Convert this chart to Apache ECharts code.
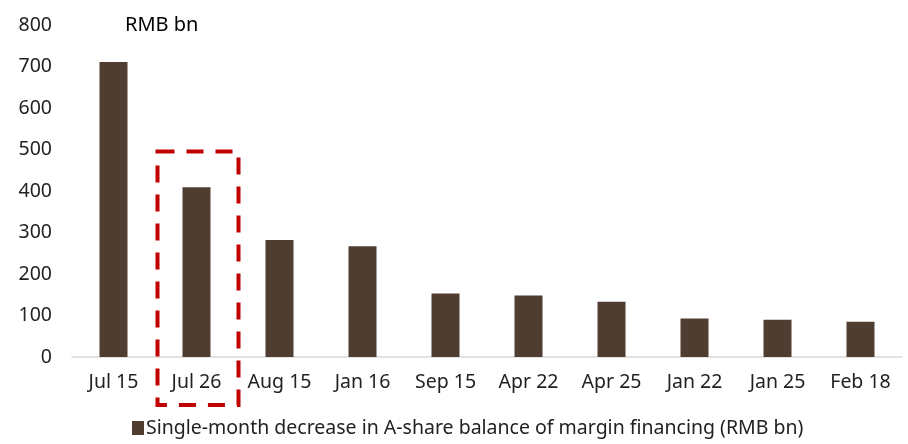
<!DOCTYPE html>
<html>
<head>
<meta charset="utf-8">
<script src="https://cdn.jsdelivr.net/npm/echarts@6/dist/echarts.min.js"></script>
<style>
  html, body { margin: 0; padding: 0; background: #fff; }
  #chart-container { width: 908px; height: 444px; }
</style>
</head>
<body>
<div id="chart-container"></div>
<script>
var categories = ['Jul 15', 'Jul 26', 'Aug 15', 'Jan 16', 'Sep 15', 'Apr 22', 'Apr 25', 'Jan 22', 'Jan 25', 'Feb 18'];
var decreaseValues = [711, 409, 282, 267, 153, 148, 133, 93, 90, 85];
var seriesName = 'Single-month decrease in A-share balance of margin financing (RMB bn)';
var highlightIndex = 1;
var highlightTop = 495;

var dom = document.getElementById('chart-container');
var myChart = echarts.init(dom, null, { renderer: 'canvas' });
var fontFamily = '"Noto Sans", "Open Sans", sans-serif';

var option = {
  backgroundColor: '#fff',
  animation: false,
  textStyle: { fontFamily: fontFamily },
  title: {
    text: 'RMB bn',
    left: 120,
    top: 10,
    textStyle: { fontSize: 20, fontWeight: 'normal', color: '#000', fontFamily: fontFamily }
  },
  grid: { left: 72, right: 6, top: 25, bottom: 87, containLabel: false },
  legend: {
    left: 127,
    top: 413,
    icon: 'rect',
    itemWidth: 12,
    itemHeight: 14,
    itemGap: 4,
    textStyle: { fontSize: 19.5, color: '#222', fontFamily: fontFamily, padding: [0, 0, 0, -3] },
    data: [seriesName]
  },
  xAxis: {
    type: 'category',
    data: categories,
    axisLine: { lineStyle: { color: '#d9d9d9', width: 1.5 } },
    axisTick: { show: false },
    axisLabel: { color: '#222', fontSize: 19.5, margin: 15, interval: 0, hideOverlap: false }
  },
  yAxis: {
    type: 'value',
    min: 0,
    max: 800,
    interval: 100,
    splitLine: { show: false },
    axisLine: { show: false },
    axisTick: { show: false },
    axisLabel: { color: '#222', fontSize: 19.5, margin: 20 }
  },
  series: [
    {
      name: seriesName,
      type: 'bar',
      data: decreaseValues,
      barWidth: 28,
      itemStyle: { color: '#4f3d32' }
    }
  ]
};

myChart.setOption(option);

// dashed highlight box around the Jul 26 bar
var center = myChart.convertToPixel({ xAxisIndex: 0 }, categories[highlightIndex]);
var topY = myChart.convertToPixel({ yAxisIndex: 0 }, highlightTop);
var baseY = myChart.convertToPixel({ yAxisIndex: 0 }, 0);
myChart.setOption({
  graphic: [
    {
      type: 'rect',
      shape: { x: center - 39, y: topY, width: 81, height: baseY - topY + 48 },
      style: { fill: 'none', stroke: '#c00000', lineWidth: 4, lineDash: [17, 12] },
      z: 100
    }
  ]
});

window.addEventListener('resize', myChart.resize);
</script>
</body>
</html>
